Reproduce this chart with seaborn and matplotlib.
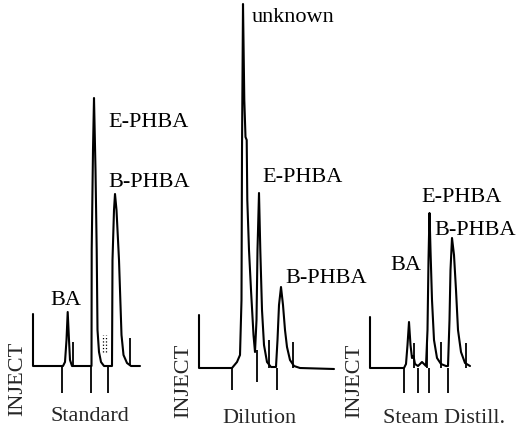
import numpy as np
import pandas as pd
import matplotlib
matplotlib.use('Agg')
import matplotlib.pyplot as plt
import seaborn as sns

# Chromatogram traces: time (min after inject) vs detector response
std_time = [0, 0, 3.0, 3.2, 3.35, 3.47, 3.6, 3.7, 3.9, 5.85, 5.87, 6.0, 6.1, 6.25, 6.37, 6.45, 6.6,
            6.8, 7.1, 7.9, 7.95, 8.1, 8.2, 8.35, 8.6, 8.85, 9.05, 9.4, 9.8, 10.7]
std_resp = [5.2, 0, 0, 0.4, 2.6, 5.4, 2.6, 0.6, 0, 0, 11.6, 21.6, 26.8, 19.6, 11.6, 3.6, 1.4,
            0.4, 0, 0, 10.6, 15.6, 17.2, 15.6, 10.6, 3.1, 1.1, 0.3, 0, 0]

dil_time = [0, 0, 3.3, 3.8, 4.1, 4.25, 4.3, 4.4, 4.53, 4.65, 4.77, 4.83, 5.0, 5.2, 5.45, 5.6,
            5.75, 5.85, 6.0, 6.13, 6.3, 6.5, 6.8, 7.2, 7.7, 7.85, 8.0, 8.2, 8.4, 8.6, 8.8, 9.1,
            9.5, 10.1, 13.5]
dil_resp = [5.3, 0, 0, 0.6, 1.3, 6.8, 21.8, 36.4, 26.8, 23.1, 22.8, 16.8, 11.8, 7.8, 3.3, 1.6,
            4.8, 11.8, 17.5, 11.8, 5.8, 2.3, 0.6, 0.1, 0.1, 2.8, 6.3, 8.1, 6.3, 3.8, 2.1, 0.8,
            0.2, 0, -0.1]

steam_time = [0, 0, 3.4, 3.6, 3.75, 3.9, 4.05, 4.2, 4.35, 4.5, 4.8, 5.0, 5.2, 5.4, 5.6, 5.75,
              5.85, 5.95, 6.05, 6.2, 6.4, 6.7, 7.1, 7.6, 7.8, 7.95, 8.05, 8.2, 8.4, 8.6, 8.8,
              9.1, 9.5, 10.0]
steam_resp = [5.1, 0, 0, 0.4, 2.3, 4.6, 2.3, 1.0, 1.2, 0.4, 0.2, 0.4, 0.6, 0.4, 0.2, 3.8,
              10.8, 15.5, 11.8, 6.8, 2.8, 1.0, 0.4, 0.2, 0.2, 4.8, 9.8, 13.0, 11.3, 7.8, 3.8,
              1.6, 0.5, 0.2]

# integrator event marks (time, from, to)
std_marks = [(2.9, 0, -2.7), (5.75, 0, -2.7), (7.5, 0, -2.7), (4.0, 0, 2.4), (9.7, 0, 2.8)]
dil_marks = [(3.3, 0, -2.2), (5.8, 1.8, -1.4), (7.8, 0, -2.2), (7.0, 0, 2.8), (9.4, 0, 2.6)]
steam_marks = [(3.4, 0, -2.5), (4.8, 0, -2.5), (5.9, 0, -2.5), (7.8, 0, -2.5),
               (4.4, 0, 2.5), (5.7, 0, 2.5), (7.1, 0, 2.6), (9.6, 0, 2.5)]

# peak labels (text, time, response)
std_labels = [('BA', 1.7, 6.1), ('E-PHBA', 7.5, 23.9), ('B-PHBA', 7.5, 17.9)]
dil_labels = [('unknown', 5.3, 34.6), ('E-PHBA', 6.3, 18.6), ('B-PHBA', 8.6, 8.5)]
steam_labels = [('BA', 2.0, 9.8), ('E-PHBA', 5.1, 16.6), ('B-PHBA', 6.45, 13.3)]

sample_names = ['Standard', 'Dilution', 'Steam Distill.']

sns.set_style('white')
plt.rcParams['font.family'] = ['Liberation Serif', 'DejaVu Serif']

W, H, PX = 516, 428, 10.0
# pixel position of inject point / baseline of each panel
origins = [(33, 366), (199, 368), (370, 368)]
name_x = [1.7, 2.3, 1.3]

panels = [
    (std_time, std_resp, std_marks, std_labels),
    (dil_time, dil_resp, dil_marks, dil_labels),
    (steam_time, steam_resp, steam_marks, steam_labels),
]

fig = plt.figure(figsize=(W / 100, H / 100), dpi=100)

for i, (t, r, marks, labels) in enumerate(panels):
    x0, y0 = origins[i]
    ax = fig.add_axes([0, 0, 1, 1])
    ax.set_xlim(-x0 / PX, (W - x0) / PX)
    ax.set_ylim(-(H - y0) / PX, y0 / PX)
    ax.axis('off')
    ax.patch.set_alpha(0)

    df = pd.DataFrame({'time': t, 'response': r})
    sns.lineplot(data=df, x='time', y='response', ax=ax, sort=False, estimator=None,
                 color='black', linewidth=1.5)

    ax.vlines([m[0] for m in marks], [m[1] for m in marks], [m[2] for m in marks],
              color='black', lw=1.3)

    for txt, tx, ty in labels:
        ax.text(tx, ty, txt, fontsize=16, ha='left', va='baseline', color='black')

    ax.text(-1.55, -1.3, 'INJECT', fontsize=16, rotation=90, ha='center', va='center')
    ax.text(name_x[i], -5.5, sample_names[i], fontsize=16, ha='left', va='baseline')

    if i == 0:
        # small dotted pen marks between E-PHBA and B-PHBA
        ax.vlines([7.0, 7.3], 1.4, 3.1, color='black', lw=0.9, linestyles=':')

fig.savefig('out.png', dpi=100)
